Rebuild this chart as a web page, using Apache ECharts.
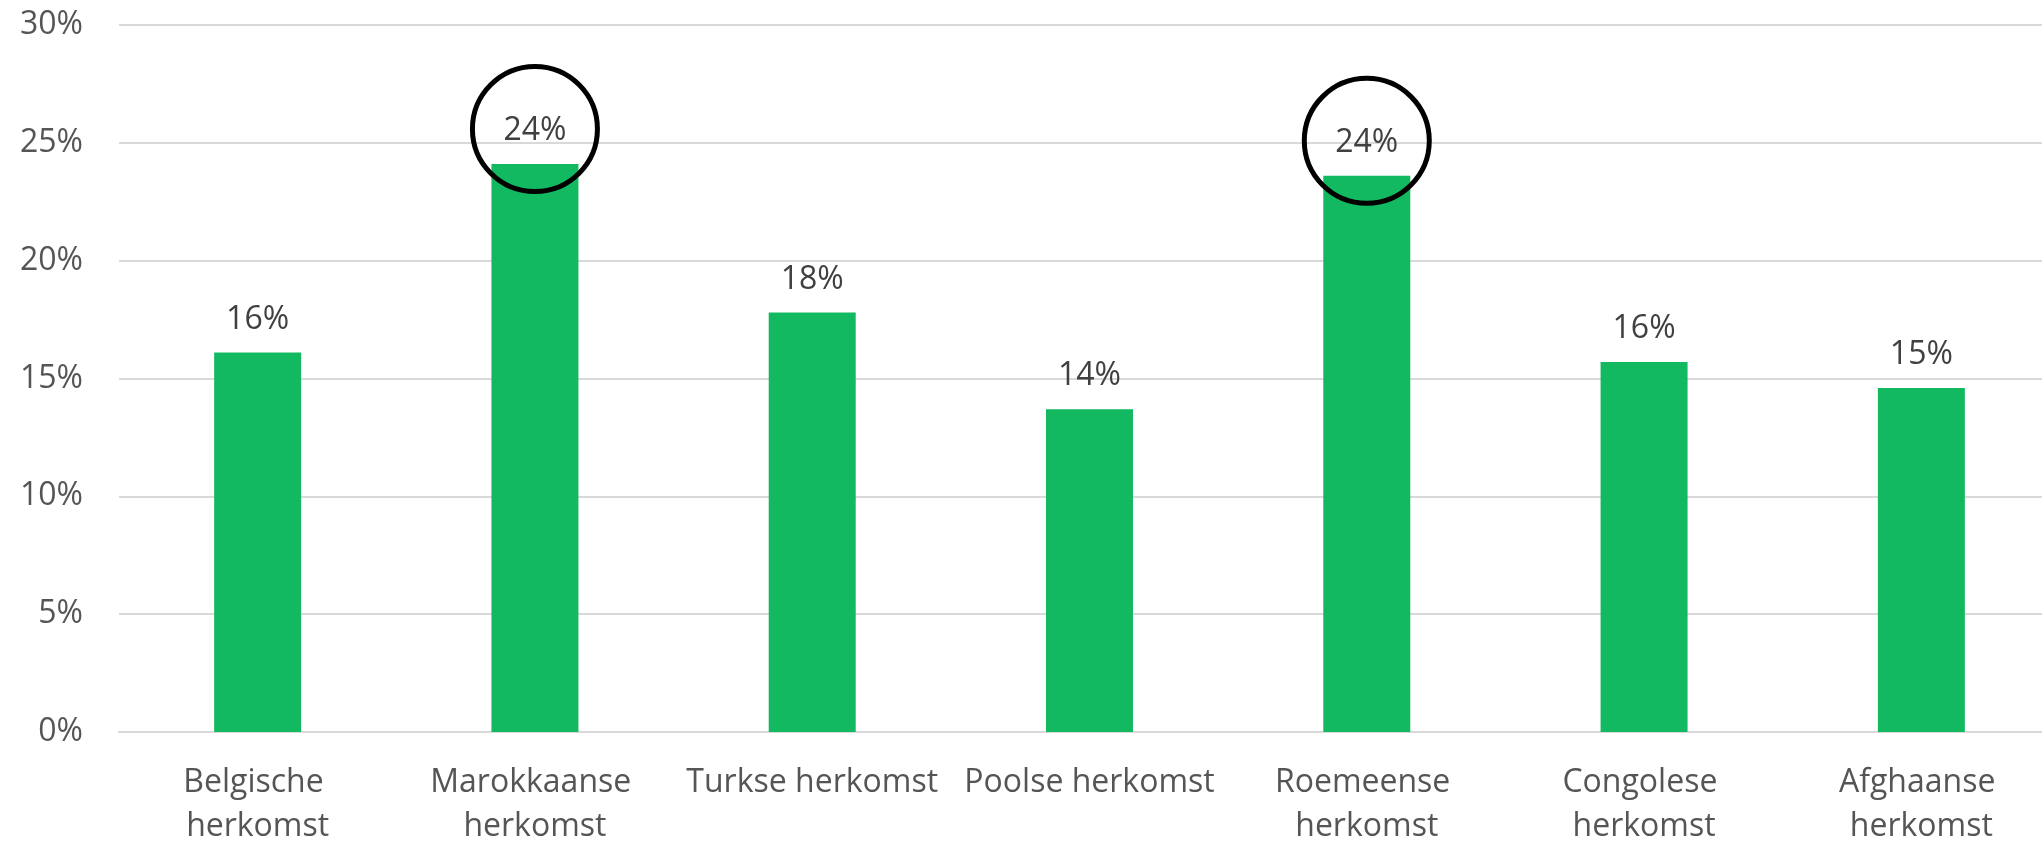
<!DOCTYPE html>
<html>
<head>
<meta charset="utf-8">
<title>Herkomst</title>
<script src="https://cdn.jsdelivr.net/npm/echarts@6/dist/echarts.min.js"></script>
<style>
    html, body { margin: 0; padding: 0; background: #fff; }
    #main { width: 2042px; height: 841px; }
</style>
</head>
<body>
<div id="main"></div>
<script>
var categories = ['Belgische herkomst', 'Marokkaanse herkomst', 'Turkse herkomst', 'Poolse herkomst',
    'Roemeense herkomst', 'Congolese herkomst', 'Afghaanse herkomst'];
var values = [16.1, 24.1, 17.8, 13.7, 23.6, 15.7, 14.6];
// bars that get a circle round their label
var circled = [1, 4];

var myChart = echarts.init(document.getElementById('main'));
var option;

var markData = [];
for (var i = 0; i < circled.length; i++) {
    var idx = circled[i];
    markData.push({
        coord: [idx, values[idx]]
    });
}

option = {
    backgroundColor: '#ffffff',
    animation: false,
    textStyle: {
        fontFamily: 'Open Sans'
    },
    grid: {
        left: 119,
        right: -18,
        top: 25,
        bottom: 109,
        containLabel: false,
        outerBoundsMode: 'none'
    },
    xAxis: {
        type: 'category',
        data: categories,
        axisTick: { show: false },
        axisLine: {
            lineStyle: { color: '#d9d9d9', width: 2 }
        },
        axisLabel: {
            interval: 0,
            color: '#555555',
            fontSize: 32,
            lineHeight: 44,
            margin: 29,
            width: 270,
            overflow: 'break'
        }
    },
    yAxis: {
        type: 'value',
        min: 0,
        max: 30,
        interval: 5,
        axisLine: { show: false },
        axisTick: { show: false },
        axisLabel: {
            color: '#555555',
            fontSize: 32,
            margin: 36,
            formatter: '{value}%'
        },
        splitLine: {
            lineStyle: { color: '#d9d9d9', width: 2 }
        }
    },
    series: [
        {
            type: 'bar',
            data: values,
            barWidth: 87,
            itemStyle: {
                color: '#12b960'
            },
            label: {
                show: true,
                position: 'top',
                distance: 17,
                color: '#404040',
                fontSize: 32,
                formatter: function (p) {
                    return Math.round(p.value) + '%';
                }
            },
            markPoint: {
                symbol: 'circle',
                symbolSize: 125,
                symbolOffset: [0, -35],
                silent: true,
                label: { show: false },
                itemStyle: {
                    color: 'rgba(0,0,0,0)',
                    borderColor: '#000000',
                    borderWidth: 5
                },
                data: markData
            }
        }
    ]
};

myChart.setOption(option);
window.onresize = function () {
    if (myChart) {
        myChart.resize();
    }
};
</script>
</body>
</html>
